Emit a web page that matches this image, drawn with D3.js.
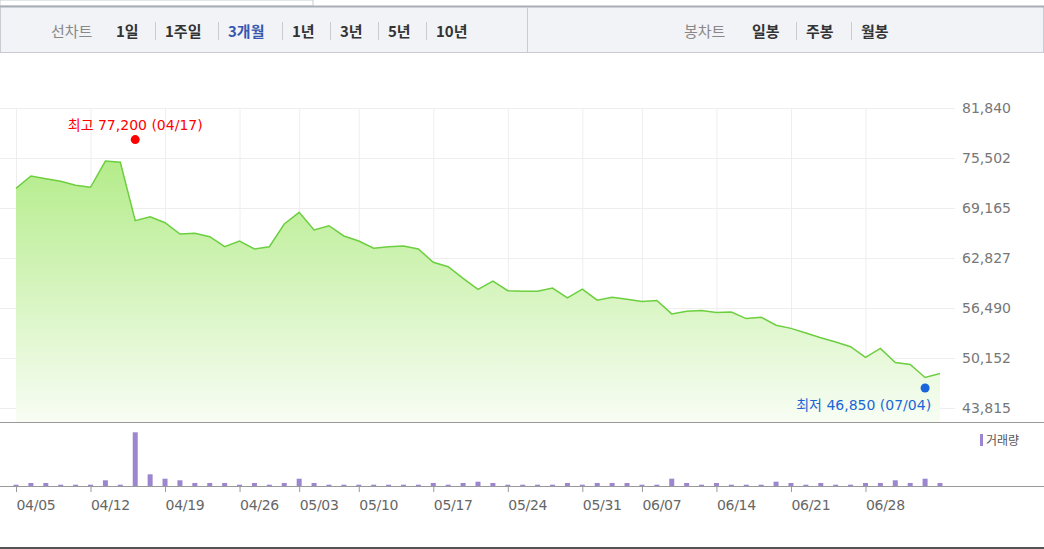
<!DOCTYPE html>
<html>
<head>
<meta charset="utf-8">
<script src="https://cdn.jsdelivr.net/npm/d3@7"></script>
<style>
  body { margin: 0; background: #fff; }
  svg { display: block; font-family: "Noto Sans CJK KR", "Noto Sans", sans-serif; }
</style>
</head>
<body>
<svg id="chart" width="1044" height="549"></svg>
<script>
// trading days
const dates = [
  '04/05','04/06','04/07','04/10','04/11','04/12','04/13','04/14','04/17','04/18','04/19','04/20','04/21','04/24','04/25','04/26','04/27','04/28',
  '05/02','05/03','05/04','05/08','05/09','05/10','05/11','05/12','05/15','05/16','05/17','05/18','05/19','05/22','05/23','05/24','05/25','05/26','05/29','05/30','05/31',
  '06/01','06/02','06/05','06/07','06/08','06/09','06/12','06/13','06/14','06/15','06/16','06/19','06/20','06/21','06/22','06/23','06/26','06/27','06/28','06/29','06/30',
  '07/03','07/04','07/05'
];
const closes = [
  71660, 73220, 72880, 72550, 72040, 71790, 75120, 74960, 67560, 68060, 67300, 65870, 65950, 65530, 64260, 64980, 63970, 64260,
  67140, 68620, 66380, 66920, 65620, 64980, 64060, 64260, 64350, 63970, 62280, 61720, 60250, 58860, 59910, 58680, 58620, 58620, 59010, 57780, 58880,
  57480, 57860, 57610, 57310, 57440, 55740, 56080, 56160, 55910, 55990, 55150, 55320, 54300, 53910, 53320, 52730, 52170, 51580, 50220, 51370, 49590,
  49330, 47680, 48190
];
const volumes = [
  13, 30, 30, 13, 13, 13, 57, 13, 537, 117, 73, 57, 30, 30, 30, 13, 30, 13,
  30, 73, 30, 13, 13, 13, 13, 13, 13, 13, 30, 13, 30, 43, 30, 13, 13, 13, 13, 30, 13,
  30, 30, 30, 13, 13, 73, 30, 13, 30, 13, 13, 13, 43, 30, 13, 30, 13, 13, 30, 30, 57,
  30, 73, 30
];
const yTicks = [43815, 50152, 56490, 62827, 69165, 75502, 81840];
const xTickLabels = ['04/05','04/12','04/19','04/26','05/03','05/10','05/17','05/24','05/31','06/07','06/14','06/21','06/28'];
const high = { value: 77200, date: '04/17', label: '최고 77,200 (04/17)' };
const low = { value: 46850, date: '07/04', label: '최저 46,850 (07/04)' };
const lineTabs = ['1일', '1주일', '3개월', '1년', '3년', '5년', '10년'];
const candleTabs = ['일봉', '주봉', '월봉'];

const numFont = '"DejaVu Sans", "Noto Sans CJK KR", sans-serif';
const svg = d3.select('#chart');

// top tab bar
svg.append('rect').attr('x', 0).attr('y', 0).attr('width', 313).attr('height', 6)
  .attr('fill', '#fff').attr('stroke', '#c9ccd3');
svg.append('rect').attr('x', 0.5).attr('y', 6.5).attr('width', 1043).attr('height', 46)
  .attr('fill', '#f1f3f7').attr('stroke', '#c9ccd3');
svg.append('line').attr('x1', 0).attr('x2', 1044).attr('y1', 6.5).attr('y2', 6.5)
  .attr('stroke', '#a9adb5').attr('stroke-width', 2);
svg.append('line').attr('x1', 527.5).attr('x2', 527.5).attr('y1', 7).attr('y2', 52)
  .attr('stroke', '#c9ccd3');

function tabGroup(title, x0, tabs, xs, active) {
  svg.append('text').attr('x', x0).attr('y', 37).attr('font-size', 15)
    .attr('fill', '#888').text(title);
  tabs.forEach((t, i) => {
    svg.append('text').attr('x', xs[i]).attr('y', 37).attr('font-size', 15)
      .attr('font-weight', 'bold').attr('fill', t === active ? '#3857b0' : '#333').text(t);
    if (i > 0) {
      svg.append('line').attr('x1', xs[i] - 9.5).attr('x2', xs[i] - 9.5).attr('y1', 22).attr('y2', 40)
        .attr('stroke', '#ccc');
    }
  });
}
tabGroup('선차트', 51, lineTabs, [116, 165, 228, 292, 340, 388, 436], '3개월');
tabGroup('봉차트', 684, candleTabs, [752, 806, 861], null);

// scales
const x = d3.scalePoint().domain(dates).range([16, 940]);
const y = d3.scaleLinear().domain([43815, 81840]).range([408, 108]);
const yv = d3.scaleLinear().domain([0, 550]).range([486, 431]);

// grid
svg.append('g').selectAll('line').data(yTicks).join('line')
  .attr('x1', 0).attr('x2', 955).attr('y1', d => y(d) + 0.5).attr('y2', d => y(d) + 0.5)
  .attr('stroke', '#eeeeee');
svg.append('g').selectAll('line').data(xTickLabels).join('line')
  .attr('x1', d => x(d) + 0.5).attr('x2', d => x(d) + 0.5).attr('y1', 108).attr('y2', 422)
  .attr('stroke', '#eeeeee');

// area
const grad = svg.append('defs').append('linearGradient').attr('id', 'g')
  .attr('gradientUnits', 'userSpaceOnUse').attr('x1', 0).attr('x2', 0).attr('y1', 160).attr('y2', 422);
grad.append('stop').attr('offset', 0).attr('stop-color', '#b4ec8a');
grad.append('stop').attr('offset', 1).attr('stop-color', '#f8fdf4');

const pts = dates.map((d, i) => ({ date: d, close: closes[i], vol: volumes[i] }));
svg.append('path').datum(pts)
  .attr('d', d3.area().x(d => x(d.date)).y0(422).y1(d => y(d.close)))
  .attr('fill', 'url(#g)');
svg.append('path').datum(pts)
  .attr('d', d3.line().x(d => x(d.date)).y(d => y(d.close)))
  .attr('fill', 'none').attr('stroke', '#6ccf3f').attr('stroke-width', 1.5);

// y axis labels
svg.append('g').selectAll('text').data(yTicks).join('text')
  .attr('x', 962).attr('y', d => y(d) + 5).attr('font-size', 14).attr('fill', '#777')
  .attr('font-family', numFont)
  .text(d => d3.format(',')(d));

// high / low markers
svg.append('circle').attr('cx', x(high.date)).attr('cy', y(high.value) - 5).attr('r', 4.5).attr('fill', '#f00');
svg.append('text').attr('x', x(high.date)).attr('y', y(high.value) - 15).attr('text-anchor', 'middle')
  .attr('font-size', 14).attr('font-family', numFont).attr('fill', '#f00').text(high.label);
svg.append('circle').attr('cx', x(low.date)).attr('cy', y(low.value) + 4).attr('r', 4.5).attr('fill', '#1a66d8');
svg.append('text').attr('x', x(low.date) + 6).attr('y', y(low.value) + 26).attr('text-anchor', 'end')
  .attr('font-size', 14).attr('font-family', numFont).attr('fill', '#1a66d8').text(low.label);

// panel separators
svg.append('line').attr('x1', 0).attr('x2', 1044).attr('y1', 422.5).attr('y2', 422.5).attr('stroke', '#999');
svg.append('line').attr('x1', 0).attr('x2', 1044).attr('y1', 486.5).attr('y2', 486.5).attr('stroke', '#999');
svg.append('line').attr('x1', 0).attr('x2', 1044).attr('y1', 548).attr('y2', 548).attr('stroke', '#555').attr('stroke-width', 2);

// volume bars
svg.append('g').selectAll('rect').data(pts).join('rect')
  .attr('x', d => x(d.date) - 2.5).attr('width', 5)
  .attr('y', d => yv(d.vol)).attr('height', d => 486 - yv(d.vol))
  .attr('fill', '#9c86cf');

svg.append('rect').attr('x', 980).attr('y', 434).attr('width', 3).attr('height', 12).attr('fill', '#9c86cf');
svg.append('text').attr('x', 986).attr('y', 445).attr('font-size', 12).attr('fill', '#555').text('거래량');

// x axis
const xa = svg.append('g').selectAll('g').data(xTickLabels).join('g')
  .attr('transform', d => `translate(${x(d) + 0.5},486)`);
xa.append('line').attr('y1', 0).attr('y2', 6).attr('stroke', '#999');
xa.append('text').attr('x', 0).attr('y', 24).attr('font-size', 14).attr('fill', '#666')
  .attr('font-family', numFont).attr('letter-spacing', '-0.3').text(d => d);
</script>
</body>
</html>
